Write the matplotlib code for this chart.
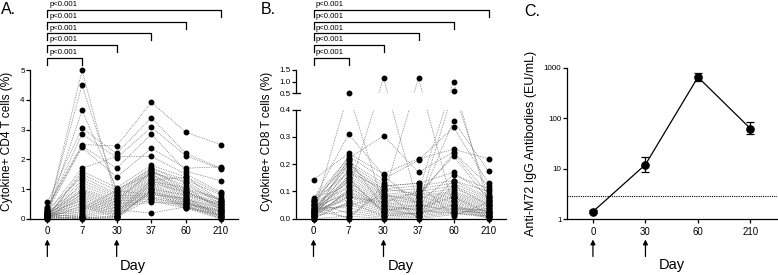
import matplotlib
matplotlib.use("Agg")
import matplotlib.pyplot as plt
import matplotlib.transforms as mtransforms
from matplotlib.lines import Line2D
import numpy as np

plt.rcParams['font.family'] = ['Liberation Sans', 'DejaVu Sans']

# ---------------- data ----------------
days = ["0", "7", "30", "37", "60", "210"]
days_c = ["0", "30", "60", "210"]

# Panel A: cytokine+ CD4 T cells (%), one entry per subject for each day
cd4_d0 = [0.10, 0.20, 0.15, 0.55, 0.30, 0.40, 0.35, 0.25, 0.20, 0.05, 0.10, 0.30, 0.15, 0.05,
          0.20, 0.12, 0.08, 0.25, 0.02, 0.18, 0.06, 0.10, 0.04, 0.22, 0.03, 0.15, 0.00, 0.12,
          0.07, 0.09, 0.01, 0.16, 0.05, 0.11, 0.02, 0.14, 0.03, 0.06, 0.00, 0.08]
cd4_d7 = [5.00, 4.50, 3.65, 3.05, 2.85, 2.50, 2.45, 2.40, 1.70, 1.60, 1.50, 1.40, 1.30, 1.20,
          1.10, 1.00, 0.95, 0.90, 0.85, 0.80, 0.75, 0.70, 0.65, 0.60, 0.55, 0.50, 0.45, 0.40,
          0.35, 0.30, 0.25, 0.20, 0.15, 0.10, 0.08, 0.05, 0.03, 0.02, 0.01, 0.00]
cd4_d30 = [0.60, 0.90, 1.00, 2.20, 2.05, 2.45, 1.70, 1.40, 2.10, 1.05, 0.95, 0.85, 0.80, 0.75,
           0.70, 0.65, 0.60, 0.55, 0.50, 0.45, 0.40, 0.35, 0.30, 0.25, 0.20, 0.15, 0.10, 0.05,
           0.95, 0.80, 0.70, 0.60, 0.50, 0.40, 0.30, 0.20, 0.10, 0.08, 0.05, 0.02]
cd4_d37 = [1.60, 1.70, 1.50, 3.40, 3.08, 3.92, 2.85, 2.37, 2.10, 1.80, 1.70, 1.65, 1.60, 1.55,
           1.50, 1.45, 1.40, 1.35, 1.30, 1.25, 1.20, 1.15, 1.10, 1.05, 1.00, 0.95, 0.90, 0.85,
           0.80, 0.75, 0.70, 0.65, 0.60, 0.55, 0.19, 1.30, 1.20, 0.90, 0.70, 1.00]
cd4_d60 = [1.10, 1.20, 0.90, 2.20, 2.12, 2.91, 1.60, 1.70, 1.50, 1.40, 1.30, 1.00, 0.95, 1.25,
           0.90, 0.85, 0.80, 0.75, 0.70, 1.05, 0.65, 0.60, 0.55, 0.50, 0.45, 0.40, 0.35, 0.60,
           0.70, 0.55, 0.45, 0.40, 0.35, 0.50, 0.40, 1.40, 0.90, 0.65, 0.50, 0.80]
cd4_d210 = [0.60, 0.50, 0.40, 1.70, 1.67, 2.50, 1.28, 1.75, 0.90, 0.85, 0.80, 0.70, 0.65, 0.60,
            0.55, 0.50, 0.45, 0.40, 0.35, 0.30, 0.28, 0.25, 0.22, 0.20, 0.18, 0.15, 0.12, 0.10,
            0.08, 0.05, 0.03, 0.02, 0.00, 0.30, 0.10, 0.60, 0.45, 0.35, 0.25, 0.50]

# Panel B: cytokine+ CD8 T cells (%), one entry per subject for each day
cd8_d0 = [0.020, 0.010, 0.030, 0.020, 0.040, 0.143, 0.070, 0.050, 0.075, 0.060, 0.030, 0.050,
          0.020, 0.065, 0.010, 0.040, 0.030, 0.055, 0.020, 0.000, 0.035, 0.015, 0.045, 0.025,
          0.010, 0.030, 0.005, 0.020, 0.040, 0.010, 0.060, 0.000, 0.030, 0.050, 0.020, 0.070,
          0.010, 0.035, 0.015, 0.000]
cd8_d7 = [0.520, 0.100, 0.050, 0.080, 0.120, 0.240, 0.310, 0.230, 0.220, 0.210, 0.200, 0.190,
          0.180, 0.170, 0.160, 0.150, 0.140, 0.130, 0.120, 0.110, 0.100, 0.095, 0.090, 0.085,
          0.080, 0.070, 0.060, 0.050, 0.040, 0.030, 0.020, 0.010, 0.005, 0.000, 0.150, 0.200,
          0.220, 0.170, 0.140, 0.060]
cd8_d30 = [0.050, 1.150, 0.080, 0.060, 0.030, 0.165, 0.160, 0.145, 0.305, 0.130, 0.120, 0.110,
           0.100, 0.090, 0.085, 0.080, 0.075, 0.070, 0.065, 0.060, 0.055, 0.050, 0.045, 0.040,
           0.035, 0.030, 0.025, 0.020, 0.015, 0.010, 0.005, 0.000, 0.100, 0.120, 0.020, 0.090,
           0.040, 0.110, 0.030, 0.010]
cd8_d37 = [0.030, 0.050, 1.150, 0.100, 0.050, 0.220, 0.050, 0.215, 0.170, 0.080, 0.130, 0.120,
           0.110, 0.100, 0.090, 0.085, 0.080, 0.075, 0.070, 0.065, 0.060, 0.055, 0.050, 0.045,
           0.040, 0.035, 0.030, 0.025, 0.020, 0.015, 0.010, 0.005, 0.000, 0.130, 0.020, 0.060,
           0.010, 0.090, 0.040, 0.020]
cd8_d60 = [0.020, 0.030, 0.040, 1.000, 0.600, 0.255, 0.360, 0.335, 0.245, 0.240, 0.170, 0.140,
           0.130, 0.120, 0.110, 0.100, 0.095, 0.090, 0.085, 0.080, 0.075, 0.070, 0.065, 0.060,
           0.055, 0.050, 0.045, 0.040, 0.035, 0.030, 0.025, 0.020, 0.015, 0.010, 0.140, 0.160,
           0.120, 0.230, 0.080, 0.050]
cd8_d210 = [0.010, 0.020, 0.030, 0.050, 0.080, 0.220, 0.175, 0.130, 0.120, 0.090, 0.085, 0.080,
            0.075, 0.070, 0.065, 0.060, 0.055, 0.050, 0.045, 0.040, 0.035, 0.030, 0.025, 0.020,
            0.015, 0.010, 0.005, 0.000, 0.030, 0.020, 0.010, 0.005, 0.040, 0.060, 0.100, 0.110,
            0.050, 0.070, 0.020, 0.010]
cd8_lower_ticks = [0.0, 0.1, 0.2, 0.3, 0.4]
cd8_upper_ticks = [0.5, 1.0, 1.5]

# Panel C: anti-M72 IgG (EU/mL), geometric mean with error bounds
igg_mean = [1.4, 12.0, 650.0, 62.0]
igg_low = [1.3, 8.5, 540.0, 48.0]
igg_high = [1.5, 17.0, 790.0, 82.0]
igg_cutoff = 2.8

pvals = ["p<0.001", "p<0.001", "p<0.001", "p<0.001", "p<0.001"]

# ---------------- layout helpers ----------------
W, H = 778, 275
fig = plt.figure(figsize=(W / 100, H / 100), dpi=100)


def fx(px):
    return px / W


def fy(py):
    return 1 - py / H


def add_ax(left, top, right, bottom):
    return fig.add_axes([fx(left), fy(bottom), (right - left) / W, (bottom - top) / H])


LINE_KW = dict(color='0.42', lw=0.55, linestyle=(0, (1, 1.3)))
MK = dict(marker='o', color='black', markersize=3.2, linestyle='none')
YTICK_FS = 5.8
XTICK_FS = 6.9
LAB_FS = 8.6


def style_axis(ax):
    for s in ('top', 'right'):
        ax.spines[s].set_visible(False)
    for s in ('left', 'bottom'):
        ax.spines[s].set_linewidth(0.9)
    ax.tick_params(axis='both', direction='out', length=2.6, width=0.9, pad=1.2)
    ax.tick_params(axis='y', labelsize=YTICK_FS)
    ax.tick_params(axis='x', labelsize=XTICK_FS, pad=3)
    ax.patch.set_visible(False)


def xbottom(ax, labels):
    n = len(labels)
    ax.set_xlim(-0.5, n - 0.5)
    ax.set_xticks(range(n))
    ax.set_xticklabels(labels)


def arrows(ax, xs):
    tr = mtransforms.blended_transform_factory(ax.transData, fig.transFigure)
    for x in xs:
        ax.annotate('', xy=(x, fy(239.5)), xytext=(x, fy(256.5)),
                    xycoords=tr, textcoords=tr,
                    arrowprops=dict(arrowstyle='-|>', color='black', lw=0.9,
                                    mutation_scale=7, shrinkA=0, shrinkB=0))


def brackets(ax):
    tr = mtransforms.blended_transform_factory(ax.transData, fig.transFigure)
    ys = [57.7, 45.0, 33.3, 21.7, 10.0]
    for i, y in enumerate(ys):
        end = i + 1
        line = Line2D([0, 0, end, end], [fy(y + 7), fy(y), fy(y), fy(y + 7)],
                      transform=tr, color='black', lw=0.9, clip_on=False)
        ax.add_line(line)
        ax.text(0.07, fy(y - 1.6), pvals[i], transform=tr, fontsize=5.6,
                ha='left', va='bottom')


def spaghetti(ax, arr, clip=True, rng=None):
    x = np.arange(arr.shape[1])
    for row in arr:
        ax.plot(x, row, clip_on=clip, **LINE_KW)
    for j in range(arr.shape[1]):
        vals = arr[:, j]
        if rng is not None:
            vals = vals[(vals >= rng[0] - 1e-9) & (vals <= rng[1] + 1e-9)]
        ax.plot(np.full(len(vals), j), vals, clip_on=False, zorder=3, **MK)


# ---------------- Panel A ----------------
axA = add_ax(30, 70.3, 238, 218.7)
style_axis(axA)
spaghetti(axA, np.array([cd4_d0, cd4_d7, cd4_d30, cd4_d37, cd4_d60, cd4_d210]).T, clip=False)
axA.set_ylim(0, 5)
axA.set_yticks([0, 1, 2, 3, 4, 5])
xbottom(axA, days)
arrows(axA, [0, 2])
brackets(axA)
fig.text(fx(7.5), fy(141.7), "Cytokine+ CD4 T cells (%)", rotation=90,
         ha='center', va='center', fontsize=LAB_FS)
fig.text(fx(133), fy(266), "Day", ha='center', va='center', fontsize=10.5)
fig.text(fx(1), fy(10), "A.", ha='left', va='center', fontsize=11.5)

# ---------------- Panel B (broken axis, continuous screen mapping) ----------------
B_BOT, B_LOW_TOP, B_UP_BOT, B_TOP = 218.7, 109.7, 93.0, 70.0
low_scale = (B_BOT - B_LOW_TOP) / 0.4          # px per unit below the break
up_scale = (B_UP_BOT - B_TOP) / 1.0            # px per unit above the break
up_base = B_BOT - B_UP_BOT                     # screen height of 0.5


def m8(v):
    v = np.asarray(v, float)
    return np.where(v <= 0.45, v * low_scale, up_base + (v - 0.5) * up_scale)


cd8 = m8(np.array([cd8_d0, cd8_d7, cd8_d30, cd8_d37, cd8_d60, cd8_d210]).T)

axB = add_ax(296, B_LOW_TOP, 506, B_BOT)
style_axis(axB)
axB.set_ylim(float(m8(0.0)), float(m8(0.4)))
spaghetti(axB, cd8, clip=True, rng=(float(m8(0.0)), float(m8(0.4))))
axB.set_yticks(m8(cd8_lower_ticks))
axB.set_yticklabels([f"{t:.1f}" for t in cd8_lower_ticks])
xbottom(axB, days)
arrows(axB, [0, 2])
brackets(axB)

axB2 = add_ax(296, B_TOP, 506, B_UP_BOT)
style_axis(axB2)
axB2.spines['bottom'].set_visible(False)
axB2.set_ylim(float(m8(0.5)), float(m8(1.5)))
spaghetti(axB2, cd8, clip=True, rng=(float(m8(0.5)), float(m8(1.5))))
axB2.set_xlim(-0.5, 5.5)
axB2.set_yticks(m8(cd8_upper_ticks))
axB2.set_yticklabels([f"{t:.1f}" for t in cd8_upper_ticks])
axB2.set_xticks([])
# break marks at the spine ends
for a, yv in ((axB, float(m8(0.4))), (axB2, float(m8(0.5)))):
    tr = mtransforms.blended_transform_factory(fig.transFigure, a.transData)
    a.add_line(Line2D([fx(296), fx(299.5)], [yv, yv], transform=tr, color='black',
                      lw=0.9, clip_on=False))
fig.text(fx(267), fy(141.7), "Cytokine+ CD8 T cells (%)", rotation=90,
         ha='center', va='center', fontsize=LAB_FS)
fig.text(fx(401), fy(266), "Day", ha='center', va='center', fontsize=10.5)
fig.text(fx(261), fy(10), "B.", ha='left', va='center', fontsize=11.5)

# ---------------- Panel C ----------------
axC = add_ax(566.7, 67.7, 776.7, 219)
style_axis(axC)
axC.set_yscale('log')
axC.set_ylim(1, 1000)
axC.set_yticks([1, 10, 100, 1000])
axC.set_yticklabels(["1", "10", "100", "1000"])
axC.yaxis.set_minor_locator(matplotlib.ticker.NullLocator())
xc = np.arange(len(days_c))
yerr = [np.array(igg_mean) - np.array(igg_low), np.array(igg_high) - np.array(igg_mean)]
axC.errorbar(xc, igg_mean, yerr=yerr, color='black', lw=0.9, marker='o', markersize=5.2,
             capsize=2.6, capthick=0.9, elinewidth=0.9, clip_on=False, zorder=3)
axC.axhline(igg_cutoff, color='black', lw=0.8, linestyle=(0, (1, 1)))
xbottom(axC, days_c)
arrows(axC, [0, 1])
fig.text(fx(531), fy(143.3), "Anti-M72 IgG Antibodies (EU/mL)", rotation=90,
         ha='center', va='center', fontsize=9)
fig.text(fx(671.7), fy(265.5), "Day", ha='center', va='center', fontsize=10.5)
fig.text(fx(524), fy(12), "C.", ha='left', va='center', fontsize=11.5)

fig.savefig("out.png", dpi=100)
